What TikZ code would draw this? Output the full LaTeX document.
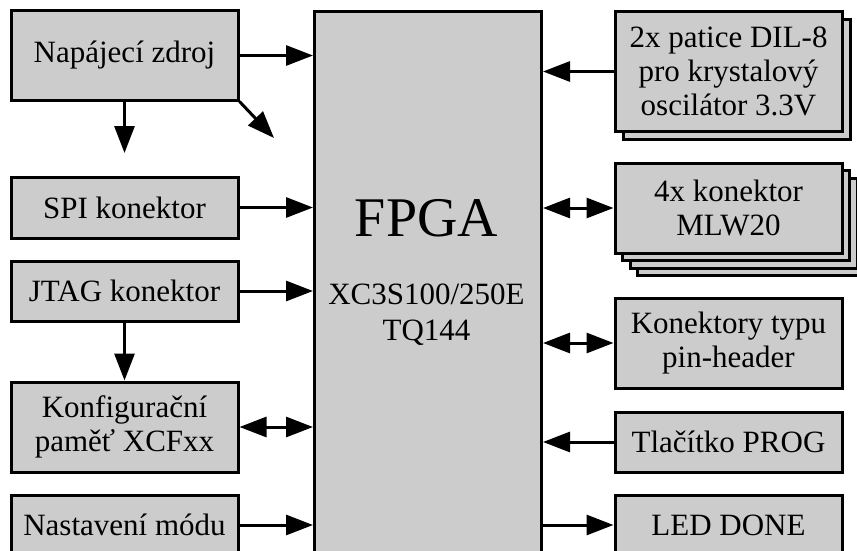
\documentclass[tikz,border=0pt]{standalone}
\usepackage{fontspec}
\setmainfont{Liberation Serif}
\usetikzlibrary{arrows.meta,shadows}

\definecolor{boxgray}{HTML}{CCCCCC}

\tikzset{
  blok/.style={draw,fill=boxgray,line width=3pt,minimum width=227pt,inner sep=0pt,
    align=center,font=\fontsize{31}{34}\selectfont},
  stin/.style={copy shadow={shadow xshift=#1,shadow yshift=-#1,fill=boxgray,draw=black,line width=3pt}},
  sig/.style={line width=3pt,-{Triangle[length=27pt,width=20pt]}},
  bus/.style={line width=3pt,{Triangle[length=27pt,width=20pt]}-{Triangle[length=27pt,width=20pt]}}
}

\begin{document}
\begin{tikzpicture}[x=1pt,y=-1pt]
\clip (0,0) rectangle (857,551);

% levy sloupec
\node[blok,minimum height=89pt] (zdroj) at (124.5,55.5) {Napájecí zdroj};
\node[blok,minimum height=61pt] (spi) at (124.5,207.5) {SPI konektor};
\node[blok,minimum height=60pt] (jtag) at (124.5,291) {JTAG konektor};
\node[blok,minimum height=90pt] (pamet) at (124.5,427) {Konfigurační\\paměť XCFxx};
\node[blok,minimum height=60pt] (mod) at (124.5,525) {Nastavení módu};

% FPGA
\node[blok,minimum height=620pt,anchor=north west] (fpga) at (313,10) {};
\node[font=\fontsize{56}{60}\selectfont] (fpganame) at (426.5,218) {FPGA};
\node[align=center,font=\fontsize{31}{36}\selectfont] (fpgatyp) at (426.5,315) {XC3S100/250E\\TQ144};

% pravy sloupec
\node[blok,minimum height=119pt,stin=8pt] (osc) at (728.5,71.5) {2x patice DIL-8\\pro krystalový\\oscilátor 3.3V};
\node[blok,minimum height=90pt,stin=22.5pt,stin=15pt,stin=7.5pt] (mlw) at (728.5,208) {4x konektor\\MLW20};
\node[blok,minimum height=90pt] (hdr) at (728.5,343) {Konektory typu\\pin-header};
\node[blok,minimum height=60pt] (prog) at (728.5,442) {Tlačítko PROG};
\node[blok,minimum height=60pt] (led) at (728.5,525) {LED DONE};

\coordinate (zdrojdole) at (124.5,153);
\coordinate (zdrojsikmo) at (274,138);

% spoje
\draw[sig] (zdroj.east) -- (zdroj.east -| fpga.west);
\draw[sig] (zdroj.south) -- (zdrojdole);
\draw[sig] (zdroj.south east) -- (zdrojsikmo);
\draw[sig] (spi.east) -- (spi.east -| fpga.west);
\draw[sig] (jtag.east) -- (jtag.east -| fpga.west);
\draw[sig] (jtag.south) -- (pamet.north);
\draw[bus] (pamet.east) -- (pamet.east -| fpga.west);
\draw[sig] (mod.east) -- (mod.east -| fpga.west);

\draw[sig] (osc.west) -- (osc.west -| fpga.east);
\draw[bus] (mlw.west -| fpga.east) -- (mlw.west);
\draw[bus] (hdr.west -| fpga.east) -- (hdr.west);
\draw[sig] (prog.west) -- (prog.west -| fpga.east);
\draw[sig] (led.west -| fpga.east) -- (led.west);
\end{tikzpicture}
\end{document}
